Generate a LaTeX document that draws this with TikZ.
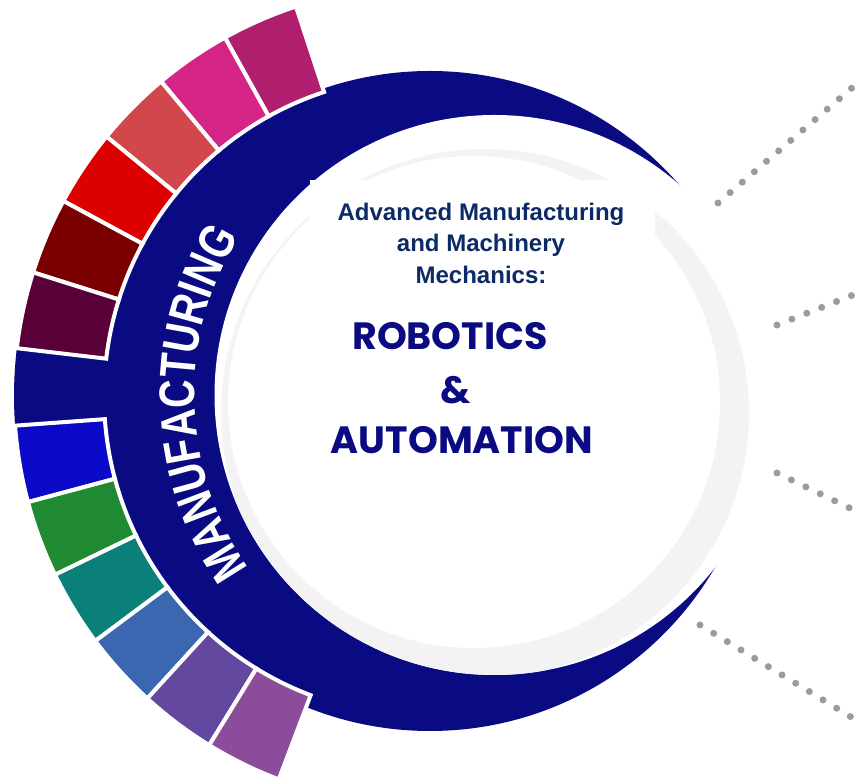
\documentclass[tikz,border=0pt]{standalone}
\usepackage{fontspec}
\usetikzlibrary{decorations.text}
\setmainfont{Liberation Sans}
\newfontfamily\geofont{Poppins}
\newfontfamily\bandfont{Liberation Sans}[FakeStretch=0.79]

\definecolor{ringblue}{HTML}{0A0A82}
\definecolor{headblue}{HTML}{0B2A66}
\definecolor{shadegray}{HTML}{F3F3F3}
\definecolor{dotgray}{HTML}{9B9B9B}
\definecolor{segA}{HTML}{B01E6E}
\definecolor{segB}{HTML}{D42485}
\definecolor{segC}{HTML}{D2474B}
\definecolor{segD}{HTML}{DC0000}
\definecolor{segE}{HTML}{7A0000}
\definecolor{segF}{HTML}{5A0038}
\definecolor{segH}{HTML}{0A0AC8}
\definecolor{segI}{HTML}{1F8A32}
\definecolor{segJ}{HTML}{0A8078}
\definecolor{segK}{HTML}{3A67B0}
\definecolor{segL}{HTML}{62489E}
\definecolor{segM}{HTML}{8B4C9C}

\begin{document}
\begin{tikzpicture}[x=1pt,y=1pt,
                    segment/.style={draw=white,line width=4pt},
                    dotline/.style={draw=dotgray,line width=7pt,line cap=round,
                                    dash pattern=on 0pt off 16pt},
                    heading/.style={text=headblue,align=center,
                                    font=\bfseries\fontsize{24}{31.5}\selectfont},
                    bigword/.style={text=ringblue,
                                    font=\geofont\bfseries\fontsize{38}{40}\selectfont}]
    \useasboundingbox (0,0) rectangle (858,781);
    \coordinate (outer) at (430,380);
    \coordinate (inner) at (494.5,386);
    \coordinate (hub) at (424,385);

    % crescent and the disc inside it
    \fill[ringblue] (outer) circle (330pt);
    \fill[white] (inner) circle (280pt);
    \begin{scope}
        \clip (inner) circle (280pt);
        \fill[shadegray] (485,368) circle (264pt);
        \fill[white] (474,379) circle (246pt);
    \end{scope}
    \fill[white] (310,479) rectangle (655,601);

    % colour band
    \fill[ringblue] (hub) ++(173.3:320) arc[start angle=173.3,end angle=184.15,radius=320pt]
        -- ++(184.15:90) arc[start angle=184.15,end angle=173.3,radius=410pt] -- cycle;
    \foreach \i/\c in {0/segA,1/segB,2/segC,3/segD,4/segE,5/segF,
                       7/segH,8/segI,9/segJ,10/segK,11/segL,12/segM}{
        \pgfmathsetmacro\a{108.2+10.85*\i}
        \pgfmathsetmacro\b{\a+10.85}
        \filldraw[segment,fill=\c] (hub) ++(\a:320) arc[start angle=\a,end angle=\b,radius=320pt]
            -- ++(\b:90) arc[start angle=\b,end angle=\a,radius=410pt] -- cycle;
    }

    \path (inner) ++(226.7:300) coordinate (bandstart);
    \path[decorate,decoration={text along path,text align=center,
          text={|\bandfont\bfseries\fontsize{50}{50}\selectfont\color{white}|MANUFACTURING}}]
        (bandstart) arc[start angle=226.7,end angle=136.7,radius=300pt];

    \node[heading] (title) at (481,538) {Advanced Manufacturing\\and Machinery\\Mechanics:};
    \node[bigword] (robotics) at (450,445) {ROBOTICS};
    \node[bigword] (amp) at (456,391) {\&};
    \node[bigword] (automation) at (462,341) {AUTOMATION};

    % dotted leaders
    \coordinate (d1a) at (718,578);
    \coordinate (d1b) at (853,694);
    \coordinate (d2a) at (777,456);
    \coordinate (d2b) at (858,488);
    \coordinate (d3a) at (777,308);
    \coordinate (d3b) at (858,269);
    \coordinate (d4a) at (700,156);
    \coordinate (d4b) at (856,61);
    \draw[dotline] (d1a) -- (d1b);
    \draw[dotline] (d2a) -- (d2b);
    \draw[dotline] (d3a) -- (d3b);
    \draw[dotline] (d4a) -- (d4b);
\end{tikzpicture}
\end{document}
